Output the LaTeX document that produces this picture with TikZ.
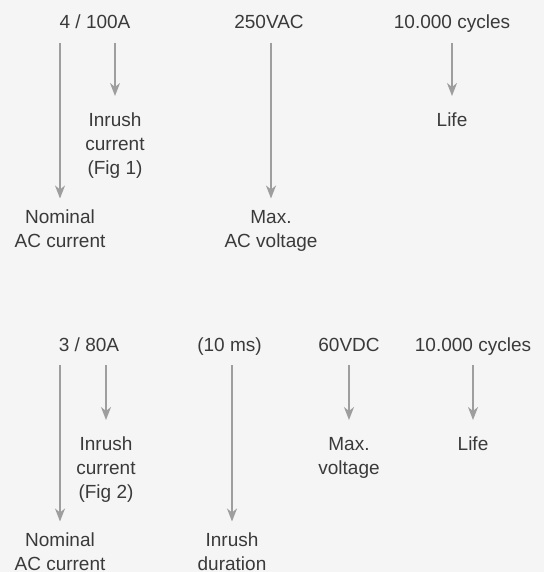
\documentclass[tikz,border=0pt]{standalone}
\usepackage{fontspec}
\setmainfont{Liberation Sans}
\usetikzlibrary{arrows.meta}
\definecolor{bgcol}{HTML}{F5F5F5}
\definecolor{txtcol}{HTML}{3A3A3A}
\definecolor{arrcol}{HTML}{9E9E9E}

\begin{document}
\begin{tikzpicture}[x=1pt, y=-1pt, font=\fontsize{19}{24}\selectfont, text=txtcol,
  rating/.style={anchor=base, inner sep=0, text height=14pt, text depth=4pt},
  meaning/.style={anchor=north, align=center, inner sep=0},
  spec/.style={-{Stealth[length=13pt, width=10pt, inset=4pt]}, draw=arrcol, line width=1.6pt, shorten <=10pt, shorten >=11.5pt},
  short/.style={shorten >=17pt},
]
\useasboundingbox[fill=bgcol] (0,0) rectangle (544,572);

% upper block
\node[rating] (current1) at (95, 28.5) {4 / 100A};
\node[rating] (voltage1) at (269, 28.5) {250VAC};
\node[rating] (cycles1) at (452, 28.5) {10.000 cycles};
\node[meaning] (nominal1) at (60, 210) {Nominal\\AC current};
\node[meaning] (inrush1) at (115, 113) {Inrush\\current\\(Fig 1)};
\node[meaning] (maxvolt1) at (271, 210) {Max.\\AC voltage};
\node[meaning] (life1) at (452, 113) {Life};

% lower block
\node[rating] (current2) at (89, 351) {3 / 80A};
\node[rating] (duration2) at (229.5, 351) {(10 ms)};
\node[rating] (voltage2) at (349, 351) {60VDC};
\node[rating] (cycles2) at (473, 351) {10.000 cycles};
\node[meaning] (nominal2) at (60, 533) {Nominal\\AC current};
\node[meaning] (inrush2) at (106, 437) {Inrush\\current\\(Fig 2)};
\node[meaning] (inrushtime2) at (232, 533) {Inrush\\duration};
\node[meaning] (maxvolt2) at (349, 437) {Max.\\voltage};
\node[meaning] (life2) at (473, 437) {Life};

\draw[spec] (nominal1.north |- current1.south) -- (nominal1.north);
\draw[spec, short] (inrush1.north |- current1.south) -- (inrush1.north);
\draw[spec] (maxvolt1.north |- voltage1.south) -- (maxvolt1.north);
\draw[spec, short] (life1.north |- cycles1.south) -- (life1.north);

\draw[spec] (nominal2.north |- current2.south) -- (nominal2.north);
\draw[spec, short] (inrush2.north |- current2.south) -- (inrush2.north);
\draw[spec] (inrushtime2.north |- duration2.south) -- (inrushtime2.north);
\draw[spec, short] (maxvolt2.north |- voltage2.south) -- (maxvolt2.north);
\draw[spec, short] (life2.north |- cycles2.south) -- (life2.north);
\end{tikzpicture}
\end{document}
